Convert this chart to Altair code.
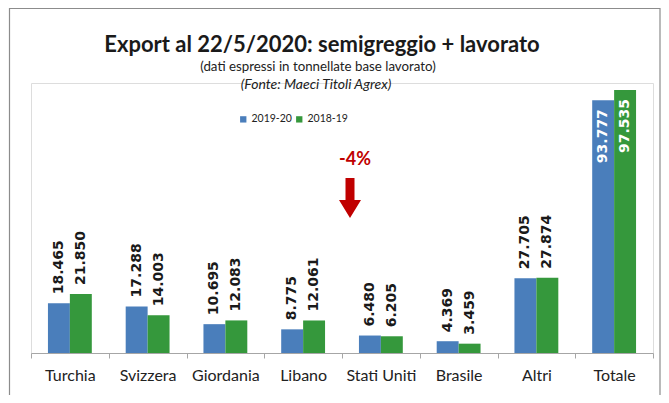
import altair as alt
import pandas as pd

paesi = ["Turchia", "Svizzera", "Giordania", "Libano", "Stati Uniti", "Brasile", "Altri", "Totale"]
v_2019_20 = [18465, 17288, 10695, 8775, 6480, 4369, 27705, 93777]
v_2018_19 = [21850, 14003, 12083, 12061, 6205, 3459, 27874, 97535]
serie = ["2019-20", "2018-19"]
colori = ["#4a7ebb", "#35983c"]

rows = []
for p, a, b in zip(paesi, v_2019_20, v_2018_19):
    rows.append({"Paese": p, "Anno": serie[0], "Valore": a})
    rows.append({"Paese": p, "Anno": serie[1], "Valore": b})
df = pd.DataFrame(rows)
df["Label"] = df["Valore"].map(lambda v: f"{v:,}".replace(",", "."))

var = round((v_2019_20[-1] / v_2018_19[-1] - 1) * 100)
var_txt = f"{var}%"

FONT = "Lato"
W, H = 622, 270
ymax = 97535 / 263 * H

x = alt.X("Paese:N", sort=paesi, title=None,
          scale=alt.Scale(paddingInner=0, paddingOuter=0),
          axis=alt.Axis(labelAngle=0, labelFont=FONT, labelFontSize=16, labelColor="#222",
                        tickBand="extent", tickSize=5, tickColor="#a6a6a6",
                        domainColor="#a6a6a6", labelPadding=9))
y = alt.Y("Valore:Q", title=None, scale=alt.Scale(domain=[0, ymax], nice=False),
          axis=None)
xo = alt.XOffset("Anno:N", sort=serie, scale=alt.Scale(paddingOuter=0.773, paddingInner=0))

base = alt.Chart(df)
bars = base.mark_bar().encode(
    x=x, y=y, xOffset=xo,
    color=alt.Color("Anno:N", sort=serie, scale=alt.Scale(domain=serie, range=colori),
                    legend=alt.Legend(title=None, orient="none", legendX=207, legendY=31,
                                      direction="horizontal", symbolType="square",
                                      symbolSize=40, symbolStrokeWidth=0, labelFont=FONT,
                                      labelFontSize=10.5, labelColor="#222", columnPadding=2,
                                      labelOffset=3, symbolOpacity=1)),
)
out_lbl = base.transform_filter(alt.datum.Paese != "Totale").mark_text(
    angle=270, align="left", baseline="middle", dx=9, font="DejaVu Sans",
    fontWeight="bold", fontSize=14, color="#1a1a1a"
).encode(x=x, y=y, xOffset=xo, text="Label:N")
in_lbl = base.transform_filter(alt.datum.Paese == "Totale").mark_text(
    angle=270, align="right", baseline="middle", dx=-9, font="DejaVu Sans",
    fontWeight="bold", fontSize=14, color="white"
).encode(x=x, y=y, xOffset=xo, text="Label:N")

one = alt.Data(values=[{"t": 1}])
frame = alt.Chart(one).mark_rect(fill=None, stroke="#8c8c8c", strokeWidth=1.2).encode(
    x=alt.value(-21.5), x2=alt.value(629), y=alt.value(-74.5), y2=alt.value(340))

title = alt.Chart(one).mark_text(font=FONT, fontSize=22, fontWeight="bold", color="#1a1a1a").encode(
    x=alt.value(291), y=alt.value(-38), text=alt.value("Export al 22/5/2020: semigreggio + lavorato"))
sub1 = alt.Chart(one).mark_text(font=FONT, fontSize=13.3, color="#222").encode(
    x=alt.value(287), y=alt.value(-16), text=alt.value("(dati espressi in tonnellate base lavorato)"))
sub2 = alt.Chart(one).mark_text(font=FONT, fontSize=14, fontStyle="italic", color="#222").encode(
    x=alt.value(285), y=alt.value(2), text=alt.value("(Fonte: Maeci Titoli Agrex)"))
pct = alt.Chart(one).mark_text(font=FONT, fontSize=18, fontWeight="bold", color="#c00000").encode(
    x=alt.value(324), y=alt.value(77), text=alt.value(var_txt))
arrow = alt.Chart(one).mark_point(
    shape="M-0.225,-1L0.225,-1L0.225,0.1L0.55,0.1L0,1L-0.55,0.1L-0.225,0.1Z",
    filled=True, size=1600, color="#c00000", opacity=1, strokeWidth=0
).encode(x=alt.value(319), y=alt.value(115))

chart = alt.layer(frame, bars, out_lbl, in_lbl, title, sub1, sub2, pct, arrow).properties(
    width=W, height=H, autosize=alt.AutoSizeParams(type="none"),
    padding={"left": 23, "top": 75, "right": 8, "bottom": 42},
).configure_view(stroke=None).configure(background="white")

chart.save("out.html", embed_options={"renderer": "svg", "actions": False})
